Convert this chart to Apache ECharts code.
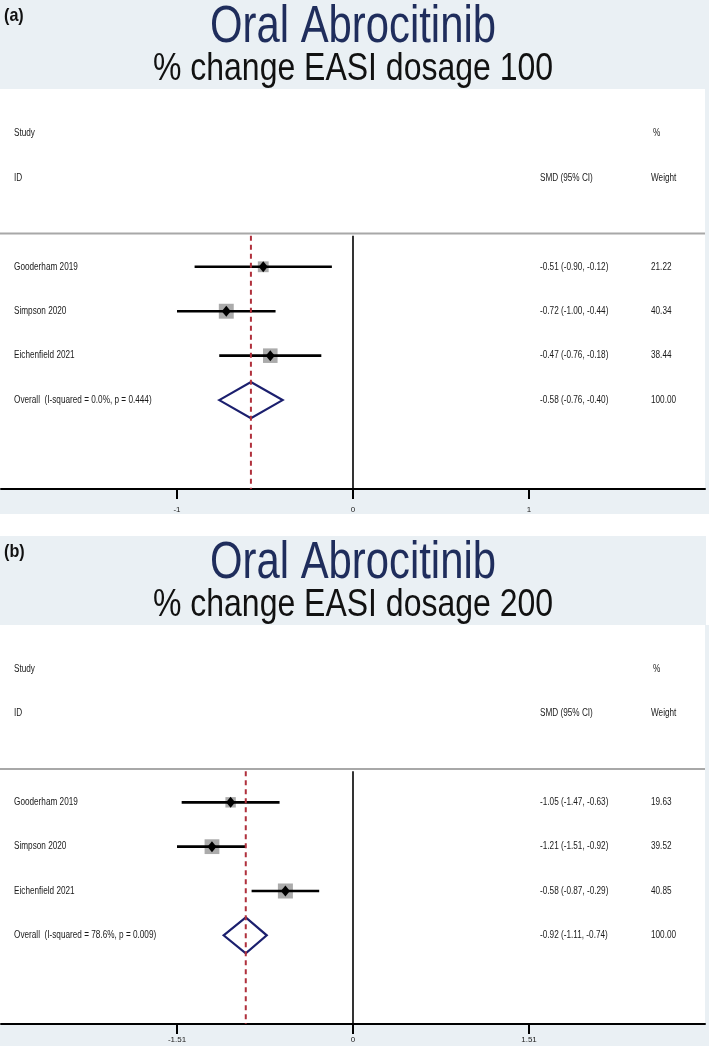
<!DOCTYPE html>
<html><head><meta charset="utf-8">
<script src="https://cdn.jsdelivr.net/npm/echarts@6/dist/echarts.min.js"></script>
<style>html,body{margin:0;padding:0;background:#fff}#c{width:709px;height:1046px}</style>
</head><body><div id="c"></div>
<script>
// ---- data ----
const studies = ['Gooderham 2019', 'Simpson 2020', 'Eichenfield 2021'];
const smdA = [-0.51, -0.72, -0.47];
const loA = [-0.90, -1.00, -0.76];
const hiA = [-0.12, -0.44, -0.18];
const weightA = [21.22, 40.34, 38.44];
const overallA = [-0.58, -0.76, -0.40];
const hetA = 'Overall  (I-squared = 0.0%, p = 0.444)';
const smdB = [-1.05, -1.21, -0.58];
const loB = [-1.47, -1.51, -0.87];
const hiB = [-0.63, -0.92, -0.29];
const weightB = [19.63, 39.52, 40.85];
const overallB = [-0.92, -1.11, -0.74];
const hetB = 'Overall  (I-squared = 78.6%, p = 0.009)';
const ticksA = [-1, 0, 1];
const ticksB = [-1.51, 0, 1.51];
const rangeA = [-2, 2];
const rangeB = [-3.02, 3.02];
const titleMain = 'Oral Abrocitinib';
const subA = '% change EASI dosage 100';
const subB = '% change EASI dosage 200';

// ---- style constants ----
const FONT = "'Liberation Sans', Arial, Helvetica, sans-serif";
const SX = 0.82;          // narrow font compression
const BG = '#eaf0f4';
const colStudyX = 14, colEstX = 540, colWeightX = 651;
const sepRow = 3.3, rowMax = 9;

function fmt(v) { return v.toFixed(2); }

function buildRows(smd, lo, hi, w, overall) {
  const rows = [];
  for (let i = 0; i < smd.length; i++) rows.push([smd[i], lo[i], hi[i], 4 + i, w[i], 0]);
  rows.push([overall[0], overall[1], overall[2], 4 + smd.length, 100, 1]);
  return rows;
}

function forestRender(params, api) {
  const est = api.value(0), lo = api.value(1), hi = api.value(2), row = api.value(3), w = api.value(4), kind = api.value(5);
  const c = api.coord([est, row]), l = api.coord([lo, row]), h = api.coord([hi, row]);
  if (kind === 1) {
    const hh = 18;
    return { type: 'polygon', shape: { points: [[l[0], c[1]], [c[0], c[1] - hh], [h[0], c[1]], [c[0], c[1] + hh]] },
      style: { fill: 'rgba(0,0,0,0)', stroke: '#1b1f6e', lineWidth: 2.2, lineJoin: 'miter' } };
  }
  const s = 2.35 * Math.sqrt(w);
  return { type: 'group', children: [
    { type: 'rect', shape: { x: c[0] - s / 2, y: c[1] - s / 2, width: s, height: s }, style: { fill: '#ababab' } },
    { type: 'line', shape: { x1: l[0], y1: c[1], x2: h[0], y2: c[1] }, style: { stroke: '#000', lineWidth: 2.6 } },
    { type: 'polygon', shape: { points: [[c[0] - 4.5, c[1]], [c[0], c[1] - 5.5], [c[0] + 4.5, c[1]], [c[0], c[1] + 5.5]] }, style: { fill: '#000' } }
  ] };
}

function txt(x, y, text, size, extra) {
  return Object.assign({ type: 'text', x: x, y: y, scaleX: SX,
    style: Object.assign({ text: text, x: 0, y: 0, fontSize: size, fontFamily: FONT, fill: '#1a1a1a', verticalAlign: 'middle', align: 'left' }, extra || {}) });
}

function textRenderFactory(smd, lo, hi, w, overall, het) {
  return function (params, api) {
    const i = params.dataIndex;
    const row = api.value(0);
    const y = api.coord([0, row])[1];
    let name, est, wt;
    if (i < smd.length) { name = studies[i]; est = fmt(smd[i]) + ' (' + fmt(lo[i]) + ', ' + fmt(hi[i]) + ')'; wt = fmt(w[i]); }
    else { name = het; est = fmt(overall[0]) + ' (' + fmt(overall[1]) + ', ' + fmt(overall[2]) + ')'; wt = fmt(100); }
    return { type: 'group', children: [txt(colStudyX, y, name, 10), txt(colEstX, y, est, 10), txt(colWeightX, y, wt, 10)] };
  };
}

function headerRender(params, api) {
  const row = api.value(0);
  const y = api.coord([0, row])[1];
  if (row === 1) return { type: 'group', children: [txt(colStudyX, y, 'Study', 10), txt(colWeightX + 2, y, '%', 10)] };
  return { type: 'group', children: [txt(colStudyX, y, 'ID', 10), txt(colEstX, y, 'SMD (95% CI)', 10), txt(colWeightX, y, 'Weight', 10)] };
}

function refRender(color, dashed, width) {
  return function (params, api) {
    const x = api.value(0);
    const p1 = api.coord([x, api.value(1)]), p2 = api.coord([x, api.value(2)]);
    return { type: 'line', shape: { x1: p1[0], y1: p1[1], x2: p2[0], y2: p2[1] },
      style: { stroke: color, lineWidth: width, lineDash: dashed ? [5, 4] : null } };
  };
}

function sepRender(params, api) {
  const p1 = api.coord([api.value(0), sepRow - 0.05]);
  const p2 = api.coord([api.value(1), sepRow - 0.05]);
  return { type: 'line', shape: { x1: p1[0] - 1, y1: p1[1], x2: p2[0], y2: p2[1] }, style: { stroke: '#a8a8a8', lineWidth: 2 } };
}

function makeX(gi, range, ticks, margin) {
  return { type: 'value', gridIndex: gi, min: range[0], max: range[1], position: 'bottom',
    axisLine: { show: true, onZero: false, lineStyle: { color: '#000', width: 2 } },
    axisTick: { show: true, length: 10, customValues: ticks, lineStyle: { color: '#000', width: 2 } },
    axisLabel: { show: true, customValues: ticks, fontSize: 8, color: '#222', margin: margin, fontFamily: FONT, formatter: function (v) { return String(v); } },
    splitLine: { show: false } };
}
function makeY(gi) {
  return { type: 'value', gridIndex: gi, min: 0, max: rowMax, inverse: true, show: false };
}

function panelSeries(gi, smd, lo, hi, w, overall, het, range) {
  return [
    { type: 'custom', xAxisIndex: gi, yAxisIndex: gi, renderItem: sepRender, data: [[range[0], range[1]]], z: 1, silent: true },
    { type: 'custom', xAxisIndex: gi, yAxisIndex: gi, renderItem: headerRender, data: [[1], [2]], z: 5, silent: true },
    { type: 'custom', xAxisIndex: gi, yAxisIndex: gi, renderItem: refRender('#000', false, 1.6), data: [[0, sepRow, rowMax]], z: 2, silent: true },
    { type: 'custom', xAxisIndex: gi, yAxisIndex: gi, renderItem: forestRender, data: buildRows(smd, lo, hi, w, overall), z: 3, silent: true },
    { type: 'custom', xAxisIndex: gi, yAxisIndex: gi, renderItem: refRender('#b0303c', true, 2), data: [[overall[0], sepRow, rowMax]], z: 4, silent: true },
    { type: 'custom', xAxisIndex: gi, yAxisIndex: gi, renderItem: textRenderFactory(smd, lo, hi, w, overall, het),
      data: smd.map((v, i) => [4 + i]).concat([[4 + smd.length]]), z: 5, silent: true }
  ];
}

function headerGraphics(top, label, sub, hw) {
  return [
    { type: 'rect', shape: { x: 0, y: top, width: hw, height: 89 }, style: { fill: BG }, z: -10 },
    { type: 'text', x: 4, y: top + 16, scaleX: 0.85, style: { text: label, fontSize: 19, fontWeight: 'bold', fontFamily: FONT, fill: '#111', verticalAlign: 'middle' }, z: 10 },
    { type: 'text', x: 353, y: top + 28, scaleX: SX, style: { text: titleMain, fontSize: 51, fontFamily: FONT, fill: '#1f2d5c', align: 'center', verticalAlign: 'middle' }, z: 10 },
    { type: 'text', x: 353, y: top + 69, scaleX: SX, style: { text: sub, fontSize: 39, fontFamily: FONT, fill: '#111', align: 'center', verticalAlign: 'middle' }, z: 10 }
  ];
}

const chart = echarts.init(document.getElementById('c'), null, { renderer: 'canvas' });
chart.setOption({
  backgroundColor: '#fff',
  animation: false,
  grid: [
    { left: 1, right: 4, top: 89, height: 400, containLabel: false, outerBoundsMode: 'none' },
    { left: 1, right: 4, top: 625, height: 399, containLabel: false, outerBoundsMode: 'none' }
  ],
  xAxis: [makeX(0, rangeA, ticksA, 17), makeX(1, rangeB, ticksB, 12)],
  yAxis: [makeY(0), makeY(1)],
  graphic: { elements: [].concat(
    headerGraphics(0, '(a)', subA, 709),
    [{ type: 'rect', shape: { x: 0, y: 490, width: 709, height: 24 }, style: { fill: BG }, z: -10 },
     { type: 'rect', shape: { x: 705, y: 89, width: 4, height: 401 }, style: { fill: BG }, z: -10 }],
    headerGraphics(536, '(b)', subB, 706),
    [{ type: 'rect', shape: { x: 0, y: 1025, width: 709, height: 21 }, style: { fill: BG }, z: -10 },
     { type: 'rect', shape: { x: 705, y: 625, width: 4, height: 400 }, style: { fill: BG }, z: -10 }]
  ) },
  series: [].concat(
    panelSeries(0, smdA, loA, hiA, weightA, overallA, hetA, rangeA),
    panelSeries(1, smdB, loB, hiB, weightB, overallB, hetB, rangeB)
  )
});
</script></body></html>
